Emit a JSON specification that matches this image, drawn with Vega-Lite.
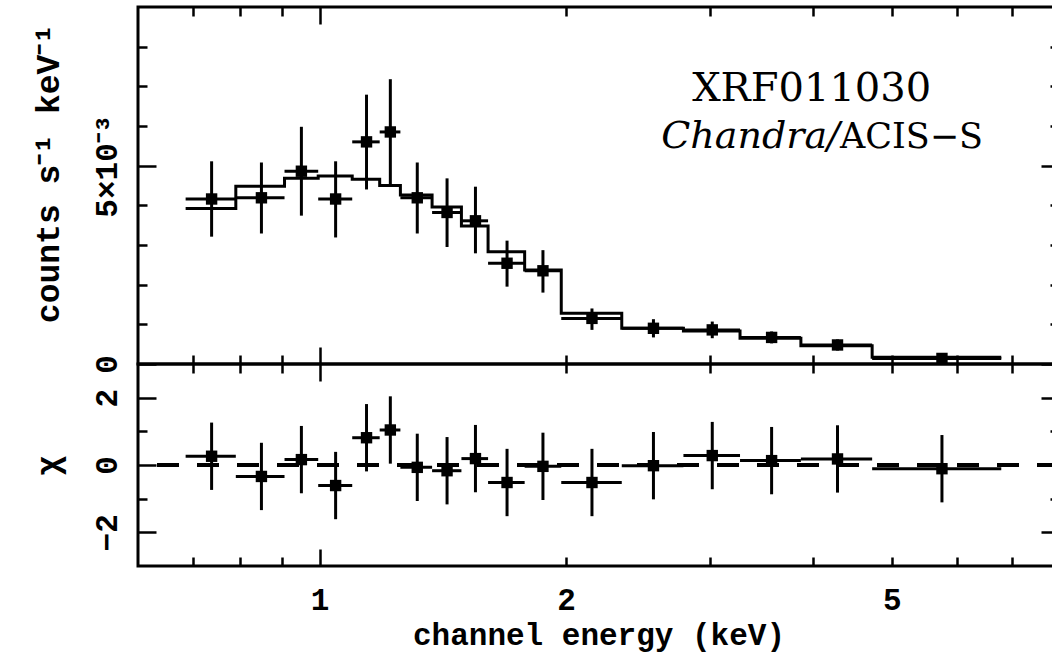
{
  "$schema": "https://vega.github.io/schema/vega-lite/v6.json",
  "autosize": {"type": "pad"},
  "padding": {"left": 30, "top": 4, "right": -6, "bottom": 5},
  "bounds": "flush",
  "spacing": 0,
  "background": "white",
  "datasets": {
    "pts": [
      {"e": 0.738, "lo": 0.686, "hi": 0.790, "v": 0.00416, "vlo": 0.00321, "vhi": 0.00511, "r": 0.26, "rlo": -0.74, "rhi": 1.26},
      {"e": 0.849, "lo": 0.790, "hi": 0.906, "v": 0.00419, "vlo": 0.00329, "vhi": 0.00508, "r": -0.34, "rlo": -1.34, "rhi": 0.66},
      {"e": 0.950, "lo": 0.906, "hi": 0.996, "v": 0.00486, "vlo": 0.00374, "vhi": 0.00598, "r": 0.16, "rlo": -0.84, "rhi": 1.16},
      {"e": 1.046, "lo": 0.996, "hi": 1.096, "v": 0.00416, "vlo": 0.00319, "vhi": 0.00511, "r": -0.61, "rlo": -1.61, "rhi": 0.39},
      {"e": 1.141, "lo": 1.096, "hi": 1.184, "v": 0.00560, "vlo": 0.00440, "vhi": 0.00679, "r": 0.81, "rlo": -0.19, "rhi": 1.81},
      {"e": 1.220, "lo": 1.184, "hi": 1.255, "v": 0.00585, "vlo": 0.00453, "vhi": 0.00718, "r": 1.04, "rlo": 0.04, "rhi": 2.04},
      {"e": 1.316, "lo": 1.255, "hi": 1.372, "v": 0.00419, "vlo": 0.00329, "vhi": 0.00508, "r": -0.07, "rlo": -1.07, "rhi": 0.93},
      {"e": 1.431, "lo": 1.372, "hi": 1.490, "v": 0.00382, "vlo": 0.00295, "vhi": 0.00468, "r": -0.17, "rlo": -1.17, "rhi": 0.83},
      {"e": 1.550, "lo": 1.490, "hi": 1.606, "v": 0.00361, "vlo": 0.00279, "vhi": 0.00447, "r": 0.19, "rlo": -0.81, "rhi": 1.19},
      {"e": 1.694, "lo": 1.606, "hi": 1.780, "v": 0.00254, "vlo": 0.00195, "vhi": 0.00311, "r": -0.52, "rlo": -1.52, "rhi": 0.48},
      {"e": 1.874, "lo": 1.780, "hi": 1.973, "v": 0.00235, "vlo": 0.00180, "vhi": 0.00287, "r": -0.04, "rlo": -1.04, "rhi": 0.96},
      {"e": 2.151, "lo": 1.973, "hi": 2.339, "v": 0.00115, "vlo": 0.00086, "vhi": 0.00140, "r": -0.52, "rlo": -1.52, "rhi": 0.48},
      {"e": 2.557, "lo": 2.339, "hi": 2.782, "v": 0.00090, "vlo": 0.00067, "vhi": 0.00113, "r": -0.02, "rlo": -1.02, "rhi": 0.98},
      {"e": 3.017, "lo": 2.782, "hi": 3.262, "v": 0.00086, "vlo": 0.00065, "vhi": 0.00107, "r": 0.28, "rlo": -0.72, "rhi": 1.28},
      {"e": 3.565, "lo": 3.262, "hi": 3.871, "v": 0.00067, "vlo": 0.00052, "vhi": 0.00082, "r": 0.13, "rlo": -0.87, "rhi": 1.13},
      {"e": 4.291, "lo": 3.871, "hi": 4.730, "v": 0.00048, "vlo": 0.00034, "vhi": 0.00062, "r": 0.18, "rlo": -0.82, "rhi": 1.18},
      {"e": 5.756, "lo": 4.730, "hi": 6.801, "v": 0.00014, "vlo": 0.00004, "vhi": 0.00024, "r": -0.11, "rlo": -1.11, "rhi": 0.89}
    ],
    "model": [
      {"e": 0.686, "m": 0.00392},
      {"e": 0.790, "m": 0.00448},
      {"e": 0.906, "m": 0.00468},
      {"e": 0.996, "m": 0.00474},
      {"e": 1.096, "m": 0.00466},
      {"e": 1.184, "m": 0.00450},
      {"e": 1.255, "m": 0.00426},
      {"e": 1.372, "m": 0.00396},
      {"e": 1.490, "m": 0.00348},
      {"e": 1.606, "m": 0.00283},
      {"e": 1.780, "m": 0.00237},
      {"e": 1.973, "m": 0.00128},
      {"e": 2.339, "m": 0.00090},
      {"e": 2.782, "m": 0.00083},
      {"e": 3.262, "m": 0.00065},
      {"e": 3.871, "m": 0.00046},
      {"e": 4.730, "m": 0.00017},
      {"e": 6.801, "m": 0.00017}
    ]
  },
  "vconcat": [
    {
      "width": 921,
      "height": 357,
      "resolve": {"axis": {"x": "independent", "y": "independent"}},
      "layer": [
        {
          "data": {"name": "pts"},
          "mark": {"type": "rule", "color": "black", "strokeWidth": 3},
          "encoding": {
            "x": {"field": "lo", "type": "quantitative", "scale": {"type": "log", "domain": [0.6, 8], "nice": false},
                  "axis": {"orient": "bottom", "values": [0.7, 0.8, 0.9, 2, 3, 4, 5, 6, 7], "tickSize": -9, "labels": false, "title": null}},
            "x2": {"field": "hi"},
            "y": {"field": "v", "type": "quantitative", "scale": {"domain": [0, 0.009], "nice": false, "zero": false},
                  "axis": {"orient": "left", "values": [0.001, 0.002, 0.003, 0.004, 0.006, 0.007, 0.008], "tickSize": -9, "labels": false, "title": null}}
          }
        },
        {
          "data": {"name": "pts"},
          "mark": {"type": "rule", "color": "black", "strokeWidth": 3},
          "encoding": {
            "x": {"field": "e", "type": "quantitative", "scale": {"type": "log", "domain": [0.6, 8], "nice": false},
                  "axis": {"orient": "top", "values": [0.7, 0.8, 0.9, 2, 3, 4, 5, 6, 7], "tickSize": -9, "labels": false, "title": null}},
            "y": {"field": "vlo", "type": "quantitative", "scale": {"domain": [0, 0.009], "nice": false, "zero": false},
                  "axis": {"orient": "right", "values": [0.001, 0.002, 0.003, 0.004, 0.006, 0.007, 0.008], "tickSize": -9, "labels": false, "title": null}},
            "y2": {"field": "vhi"}
          }
        },
        {
          "data": {"name": "model"},
          "mark": {"type": "line", "interpolate": "step-after", "color": "black", "strokeWidth": 3},
          "encoding": {
            "x": {"field": "e", "type": "quantitative", "scale": {"type": "log", "domain": [0.6, 8], "nice": false},
                  "axis": {"orient": "top", "values": [1], "tickSize": -17, "labels": false, "title": null}},
            "y": {"field": "m", "type": "quantitative", "scale": {"domain": [0, 0.009], "nice": false, "zero": false},
                  "axis": {"orient": "right", "values": [0, 0.005], "tickSize": -18, "labels": false, "title": null}}
          }
        },
        {
          "data": {"name": "pts"},
          "mark": {"type": "square", "color": "black", "size": 130, "opacity": 1, "filled": true},
          "encoding": {
            "x": {"field": "e", "type": "quantitative", "scale": {"type": "log", "domain": [0.6, 8], "nice": false},
                  "axis": {"orient": "bottom", "values": [1], "tickSize": -17, "labels": false, "title": null}},
            "y": {"field": "v", "type": "quantitative", "scale": {"domain": [0, 0.009], "nice": false, "zero": false},
                  "axis": {"orient": "left", "values": [0, 0.005], "tickSize": -18,
                           "labelExpr": "datum.value == 0 ? '0' : '5×10⁻³'", "labelAngle": 270, "labelAlign": "center", "labelBaseline": "alphabetic",
                           "labelPadding": 40, "labelFont": "Liberation Mono", "labelFontWeight": "bold", "labelFontSize": 31, "labelOverlap": false, "labelFlush": false,
                           "title": "counts s⁻¹ keV⁻¹", "titleFont": "Liberation Mono", "titleFontWeight": "bold", "titleFontSize": 33,
                           "titleAngle": 270, "titleAlign": "center", "titleBaseline": "alphabetic", "titleX": -80, "titleY": 166}}
          }
        },
        {
          "data": {"values": [{"t": "XRF011030"}]},
          "mark": {"type": "text", "font": "DejaVu Serif", "fontSize": 40, "align": "center", "baseline": "alphabetic", "color": "black"},
          "encoding": {
            "text": {"field": "t"},
            "x": {"datum": 3.99, "type": "quantitative", "scale": {"type": "log", "domain": [0.6, 8], "nice": false}, "axis": null},
            "y": {"datum": 0.00662, "type": "quantitative", "scale": {"domain": [0, 0.009], "nice": false, "zero": false}, "axis": null}
          }
        },
        {
          "data": {"values": [{"t": "Chandra/"}]},
          "mark": {"type": "text", "font": "DejaVu Serif", "fontStyle": "italic", "fontSize": 38, "align": "right", "baseline": "alphabetic", "color": "black"},
          "encoding": {
            "text": {"field": "t"},
            "x": {"datum": 4.32, "type": "quantitative", "scale": {"type": "log", "domain": [0.6, 8], "nice": false}, "axis": null},
            "y": {"datum": 0.00544, "type": "quantitative", "scale": {"domain": [0, 0.009], "nice": false, "zero": false}, "axis": null}
          }
        },
        {
          "data": {"values": [{"t": "ACIS−S"}]},
          "mark": {"type": "text", "font": "DejaVu Serif", "fontSize": 35, "align": "left", "baseline": "alphabetic", "color": "black"},
          "encoding": {
            "text": {"field": "t"},
            "x": {"datum": 4.32, "type": "quantitative", "scale": {"type": "log", "domain": [0.6, 8], "nice": false}, "axis": null},
            "y": {"datum": 0.00544, "type": "quantitative", "scale": {"domain": [0, 0.009], "nice": false, "zero": false}, "axis": null}
          }
        }
      ]
    },
    {
      "width": 921,
      "height": 202,
      "resolve": {"axis": {"x": "independent", "y": "independent"}},
      "layer": [
        {
          "data": {"name": "pts"},
          "mark": {"type": "rule", "color": "black", "strokeWidth": 3, "strokeDash": [22, 18]},
          "encoding": {
            "y": {"datum": 0, "type": "quantitative", "scale": {"domain": [-3, 3], "nice": false, "zero": false}, "axis": null}
          }
        },
        {
          "data": {"name": "pts"},
          "mark": {"type": "rule", "color": "black", "strokeWidth": 3},
          "encoding": {
            "x": {"field": "lo", "type": "quantitative", "scale": {"type": "log", "domain": [0.6, 8], "nice": false},
                  "axis": {"orient": "bottom", "values": [0.7, 0.8, 0.9, 2, 3, 4, 5, 6, 7], "tickSize": -9, "labels": false, "title": null}},
            "x2": {"field": "hi"},
            "y": {"field": "r", "type": "quantitative", "scale": {"domain": [-3, 3], "nice": false, "zero": false},
                  "axis": {"orient": "left", "values": [-1, 1], "tickSize": -9, "labels": false, "title": null}}
          }
        },
        {
          "data": {"name": "pts"},
          "mark": {"type": "rule", "color": "black", "strokeWidth": 3},
          "encoding": {
            "x": {"field": "e", "type": "quantitative", "scale": {"type": "log", "domain": [0.6, 8], "nice": false},
                  "axis": {"orient": "top", "values": [0.7, 0.8, 0.9, 2, 3, 4, 5, 6, 7], "tickSize": -9, "labels": false, "title": null}},
            "y": {"field": "rlo", "type": "quantitative", "scale": {"domain": [-3, 3], "nice": false, "zero": false},
                  "axis": {"orient": "right", "values": [-1, 1], "tickSize": -9, "labels": false, "title": null}},
            "y2": {"field": "rhi"}
          }
        },
        {
          "data": {"name": "pts"},
          "mark": {"type": "point", "opacity": 0},
          "encoding": {
            "x": {"field": "e", "type": "quantitative", "scale": {"type": "log", "domain": [0.6, 8], "nice": false},
                  "axis": {"orient": "top", "values": [1], "tickSize": -17, "labels": false, "title": null}},
            "y": {"field": "r", "type": "quantitative", "scale": {"domain": [-3, 3], "nice": false, "zero": false},
                  "axis": {"orient": "right", "values": [-2, 0, 2], "tickSize": -18, "labels": false, "title": null}}
          }
        },
        {
          "data": {"name": "pts"},
          "mark": {"type": "point", "opacity": 0},
          "encoding": {
            "x": {"field": "e", "type": "quantitative", "scale": {"type": "log", "domain": [0.6, 8], "nice": false},
                  "axis": {"orient": "bottom", "values": [1, 2, 5], "ticks": false, "labelPadding": 19,
                           "labelFont": "Liberation Mono", "labelFontWeight": "bold", "labelFontSize": 31, "labelBaseline": "top", "labelAlign": "center",
                           "labelOverlap": false, "labelFlush": false,
                           "title": "channel energy (keV)", "titleFont": "Liberation Mono", "titleFontWeight": "bold", "titleFontSize": 31,
                           "titleBaseline": "alphabetic", "titleY": 78}},
            "y": {"field": "r", "type": "quantitative", "scale": {"domain": [-3, 3], "nice": false, "zero": false}, "axis": null}
          }
        },
        {
          "data": {"name": "pts"},
          "mark": {"type": "square", "color": "black", "size": 130, "opacity": 1, "filled": true},
          "encoding": {
            "x": {"field": "e", "type": "quantitative", "scale": {"type": "log", "domain": [0.6, 8], "nice": false},
                  "axis": {"orient": "bottom", "values": [1], "tickSize": -17, "labels": false, "title": null}},
            "y": {"field": "r", "type": "quantitative", "scale": {"domain": [-3, 3], "nice": false, "zero": false},
                  "axis": {"orient": "left", "values": [-2, 0, 2], "tickSize": -18,
                           "labelExpr": "datum.value < 0 ? '−2' : datum.label", "labelAngle": 270, "labelAlign": "center", "labelBaseline": "alphabetic",
                           "labelPadding": 40, "labelFont": "Liberation Mono", "labelFontWeight": "bold", "labelFontSize": 31, "labelOverlap": false, "labelFlush": false,
                           "title": "χ", "titleFont": "Liberation Mono", "titleFontWeight": "bold", "titleFontSize": 33,
                           "titleAngle": 270, "titleAlign": "center", "titleBaseline": "alphabetic", "titleX": -80, "titleY": 101}}
          }
        }
      ]
    }
  ],
  "config": {
    "view": {"stroke": "black", "strokeWidth": 3},
    "axis": {"grid": false, "domain": false, "tickColor": "black", "tickWidth": 2.5, "labelColor": "black", "titleColor": "black"}
  }
}
